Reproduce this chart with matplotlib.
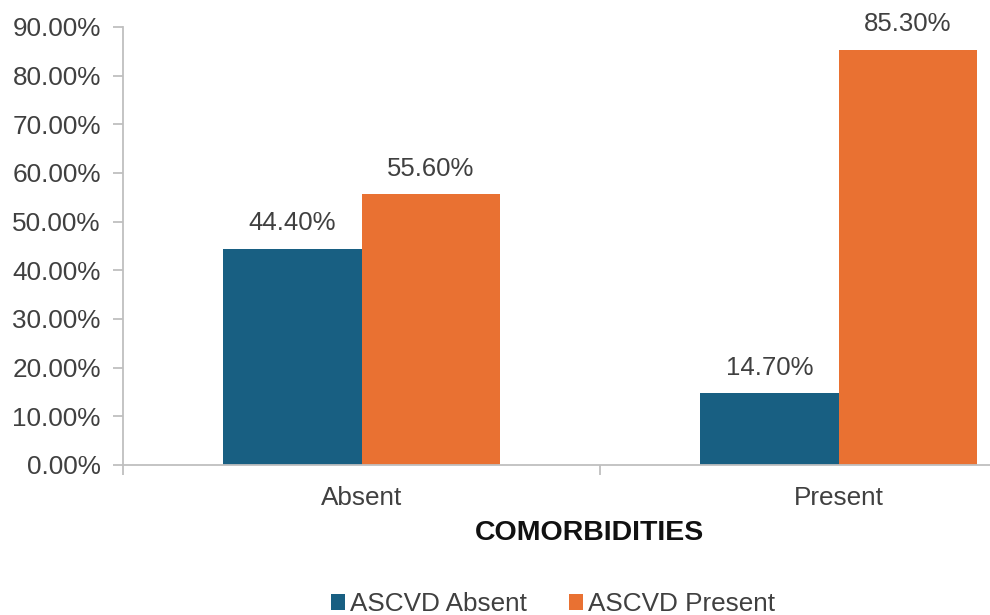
import matplotlib.pyplot as plt
import numpy as np

plt.rcParams['font.family'] = ['Liberation Sans', 'DejaVu Sans']

categories = ['Absent', 'Present']
ascvd_absent = [44.40, 14.70]
ascvd_present = [55.60, 85.30]
series_names = ['ASCVD Absent', 'ASCVD Present']
yticks = [0, 10, 20, 30, 40, 50, 60, 70, 80, 90]

blue = '#185F82'
orange = '#E97132'
grey = '#BFBFBF'
text_col = '#404040'

fig = plt.figure(figsize=(9.9, 6.15), dpi=100)
# axes runs past the right edge of the figure
ax = fig.add_axes([123 / 990, 150 / 615, 954 / 990, 438 / 615])

x = np.arange(len(categories))
w = 0.29
b1 = ax.bar(x - w / 2, ascvd_absent, w, color=blue, label=series_names[0])
b2 = ax.bar(x + w / 2, ascvd_present, w, color=orange, label=series_names[1])

for bars, vals in ((b1, ascvd_absent), (b2, ascvd_present)):
    for r, v in zip(bars, vals):
        ax.annotate(f'{v:.2f}%', (r.get_x() + r.get_width() / 2, v),
                    xytext=(0, 10), textcoords='offset points',
                    ha='center', va='bottom', fontsize=18.5, color=text_col)

ax.set_xlim(-0.5, 1.5)
ax.set_ylim(0, 90)
ax.set_yticks(yticks)
ax.set_yticklabels([f'{t:.2f}%' for t in yticks])
ax.set_xticks([-0.5, 0.5, 1.5])
ax.set_xticks(x, minor=True)
ax.set_xticklabels(['', '', ''])
ax.set_xticklabels(categories, minor=True)
ax.tick_params(axis='x', which='minor', length=0, pad=15)
ax.tick_params(axis='x', which='major', length=7, color=grey, width=1.3)
ax.tick_params(axis='y', length=7, color=grey, width=1.3, pad=9)
ax.tick_params(labelsize=18.8, labelcolor=text_col, which='both')

for s in ['top', 'right']:
    ax.spines[s].set_visible(False)
for s in ['left', 'bottom']:
    ax.spines[s].set_color(grey)
    ax.spines[s].set_linewidth(1.3)

fig.text(590 / 990, 1 - 533 / 615, 'COMORBIDITIES', ha='center', va='center',
         fontsize=20.5, fontweight='bold', color='#111111')

fig.legend(handles=[b1, b2], loc='center', bbox_to_anchor=(553 / 990, 1 - 604 / 615),
           ncol=2, frameon=False, fontsize=18.8, handlelength=0.55, handleheight=0.55,
           handletextpad=0.2, columnspacing=1.6, labelcolor=text_col)

fig.savefig('out.png', dpi=100)
